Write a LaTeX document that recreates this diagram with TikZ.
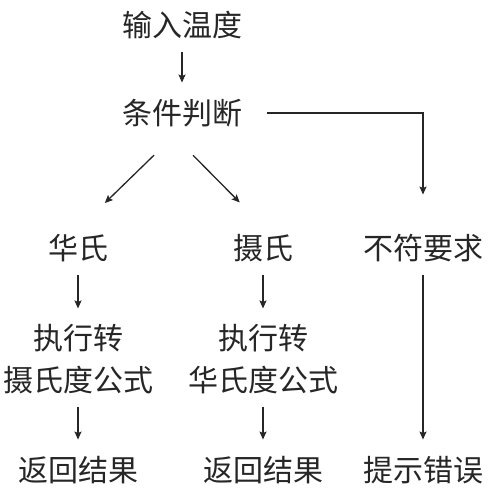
\documentclass[tikz,border=0pt]{standalone}
\usepackage{fontspec}
\newfontfamily\cjk{Noto Sans CJK SC}
\usetikzlibrary{arrows.meta}

\begin{document}
\begin{tikzpicture}[x=1pt,y=-1pt,
  txt/.style={font=\cjk\fontsize{30}{42}\selectfont, text=black!85, inner sep=0pt, align=center},
  one/.style={txt, text height=26pt, text depth=3.5pt},
  arr/.style={draw=black!85, line width=1.3pt, -{Stealth[length=8pt,width=7pt,inset=1.5pt]},
    shorten <=12.5pt, shorten >=15.5pt}]
\useasboundingbox (0,0) rectangle (495,492);
% top
\node[one] (input) at (182,25) {输入温度};
\node[one] (judge) at (182,113) {条件判断};
% branches
\node[one] (hua) at (78,248) {华氏};
\node[one] (she) at (263,248) {摄氏};
\node[one] (bad) at (423,248) {不符要求};
\node[txt] (toc) at (78,359) {执行转\\摄氏度公式};
\node[txt] (tof) at (263,359) {执行转\\华氏度公式};
\node[one] (res1) at (78,470) {返回结果};
\node[one] (res2) at (263,470) {返回结果};
\node[one] (err) at (423,470) {提示错误};
% arrows
\draw[arr] (input) -- (judge);
\draw[arr, shorten <=39pt, shorten >=43pt] (judge.south) -- ([xshift=-4pt]hua.north);
\draw[arr, shorten <=38.5pt, shorten >=43pt] ([xshift=-16pt]judge.south) -- ([xshift=7pt]she.north);
\draw[arr, shorten <=25pt, shorten >=38.5pt] (judge.east) -| (bad.north);
\draw[arr] (hua) -- (toc);
\draw[arr] (toc) -- (res1);
\draw[arr] (she) -- (tof);
\draw[arr] (tof) -- (res2);
\draw[arr] (bad) -- (err);
\end{tikzpicture}
\end{document}
